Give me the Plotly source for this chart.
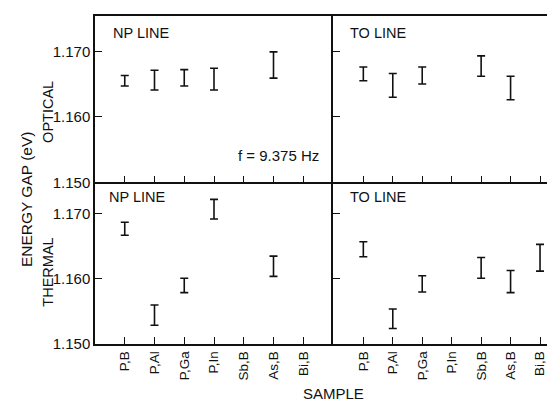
import plotly.graph_objects as go

samples = ["P,B", "P,Al", "P,Ga", "P,In", "Sb,B", "As,B", "Bi,B"]
ytick_vals = [1.150, 1.160, 1.170]
ytick_text = ["1.150", "1.160", "1.170"]

# Optical, NP line (low, high)
np_opt_x = [0, 1, 2, 3, 5]
np_opt_lo = [1.1647, 1.1641, 1.1647, 1.1641, 1.1659]
np_opt_hi = [1.1663, 1.1671, 1.1672, 1.1674, 1.1699]

# Optical, TO line
to_opt_x = [0, 1, 2, 4, 5]
to_opt_lo = [1.1655, 1.1630, 1.1650, 1.1662, 1.1626]
to_opt_hi = [1.1676, 1.1666, 1.1676, 1.1693, 1.1662]

# Thermal, NP line
np_th_x = [0, 1, 2, 3, 5]
np_th_lo = [1.1667, 1.1529, 1.1579, 1.1692, 1.1604]
np_th_hi = [1.1687, 1.1560, 1.1601, 1.1722, 1.1635]

# Thermal, TO line
to_th_x = [0, 1, 2, 4, 5, 6]
to_th_lo = [1.1634, 1.1524, 1.1580, 1.1601, 1.1579, 1.1612]
to_th_hi = [1.1657, 1.1554, 1.1605, 1.1633, 1.1613, 1.1653]

W, H = 555, 402
def px_x(p): return p / W
def px_y(p): return 1 - p / H

FONT = "Liberation Sans"
fig = go.Figure()

panels = [
    ("x", "y", np_opt_x, np_opt_lo, np_opt_hi),
    ("x2", "y2", to_opt_x, to_opt_lo, to_opt_hi),
    ("x3", "y3", np_th_x, np_th_lo, np_th_hi),
    ("x4", "y4", to_th_x, to_th_lo, to_th_hi),
]
for xa, ya, xs, lo, hi in panels:
    c = [(a + b) / 2 for a, b in zip(lo, hi)]
    e = [(b - a) / 2 for a, b in zip(lo, hi)]
    fig.add_trace(go.Scatter(
        x=xs, y=c, mode="markers", xaxis=xa, yaxis=ya,
        marker=dict(size=1, color="rgba(0,0,0,0)"),
        error_y=dict(type="data", array=e, symmetric=True, color="#111",
                     thickness=1.6, width=4),
        showlegend=False, hoverinfo="skip"))

xl = [px_x(87), px_x(325)]
xr = [px_x(325), 1.0]
yt = [px_y(178), px_y(8)]
yb = [px_y(343), px_y(178)]

axcommon = dict(showline=True, linecolor="#111", linewidth=1.5,
                showgrid=False, zeroline=False, ticks="inside", tickcolor="#111",
                tickwidth=1.2)
xcommon = dict(axcommon, tickvals=list(range(len(samples))), ticklen=7)
ycommon = dict(axcommon, tickvals=ytick_vals, ticklen=7, mirror=False,
               tickfont=dict(family=FONT, size=15, color="#111"))

xtickfont = dict(family=FONT, size=13.5, color="#111")

fig.update_layout(
    width=W, height=H, margin=dict(l=0, r=0, t=0, b=0),
    paper_bgcolor="white", plot_bgcolor="white",
    xaxis=dict(xcommon, domain=xl, range=[-1, 7], anchor="y", mirror=True, showticklabels=False),
    xaxis2=dict(xcommon, domain=xr, range=[-1.03, 6.78], anchor="y2", mirror=True, showticklabels=False),
    xaxis3=dict(xcommon, domain=xl, range=[-1, 7], anchor="y3", mirror=False,
                ticktext=samples, tickangle=-90, tickfont=xtickfont),
    xaxis4=dict(xcommon, domain=xr, range=[-1.03, 6.78], anchor="y4", mirror=False,
                ticktext=samples, tickangle=-90, tickfont=xtickfont),
    yaxis=dict(ycommon, domain=yt, range=[1.150, 1.1754], anchor="x", ticktext=ytick_text),
    yaxis2=dict(ycommon, domain=yt, range=[1.150, 1.1754], anchor="x2", showticklabels=False),
    yaxis3=dict(ycommon, domain=yb, range=[1.150, 1.1748], anchor="x3", ticktext=ytick_text),
    yaxis4=dict(ycommon, domain=yb, range=[1.150, 1.1748], anchor="x4", showticklabels=False),
)

def ann(text, x, y, size=14.5, angle=0, xanchor="center"):
    fig.add_annotation(text=text, x=px_x(x), y=px_y(y), xref="paper", yref="paper",
                       showarrow=False, textangle=angle, xanchor=xanchor, yanchor="middle",
                       font=dict(family=FONT, size=size, color="#111"))

ann("NP LINE", 103, 25, xanchor="left")
ann("TO LINE", 340, 25, xanchor="left")
ann("NP LINE", 99, 193, xanchor="left")
ann("TO LINE", 340, 193, xanchor="left")
ann("f = 9.375 Hz", 270, 151, size=15)
ann("ENERGY GAP (eV)", 18, 195, size=15.5, angle=-90)
ann("OPTICAL", 40, 106, size=14.5, angle=-90)
ann("THERMAL", 40, 270, size=14.5, angle=-90)
ann("SAMPLE", 325, 393, size=15)

fig.write_html("out.html")
